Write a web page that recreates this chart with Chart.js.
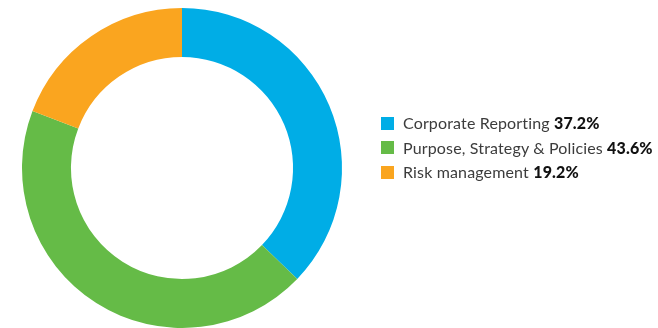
<!DOCTYPE html>
<html>
<head>
<meta charset="utf-8">
<script src="https://cdn.jsdelivr.net/npm/chart.js@4/dist/chart.umd.min.js"></script>
<style>
  html, body { margin: 0; padding: 0; background: #fff; }
  #wrap { position: relative; width: 658px; height: 328px; }
  #chart { position: absolute; left: 0; top: 0; }
  #legend {
    position: absolute; left: 381px; top: 111px;
    font-family: Lato, "Open Sans", sans-serif; font-size: 16px; color: #3c3c3c;
    letter-spacing: 0.15px;
    margin: 0; padding: 0; list-style: none;
  }
  #legend li { height: 24.5px; line-height: 24.5px; white-space: nowrap; display: flex; align-items: center; }
  #legend .box { width: 13px; height: 13px; margin-right: 9px; flex: none; }
  #legend b { color: #111; font-weight: 900; }
</style>
</head>
<body>
<div id="wrap">
  <canvas id="chart" width="658" height="328"></canvas>
  <ul id="legend"></ul>
</div>
<script>
// Share of topics (%)
const categories = ['Corporate Reporting', 'Purpose, Strategy & Policies', 'Risk management'];
const shares = [37.2, 43.6, 19.2];
const colors = ['#00ADE6', '#65BB47', '#FAA51F'];

new Chart(document.getElementById('chart'), {
  type: 'doughnut',
  data: {
    labels: categories,
    datasets: [{
      data: shares,
      backgroundColor: colors,
      borderWidth: 0,
      hoverOffset: 0
    }]
  },
  options: {
    responsive: false,
    animation: false,
    cutout: '69.4%',
    layout: { padding: { left: 22, right: 316, top: 8, bottom: 0 } },
    plugins: {
      legend: { display: false },
      tooltip: { enabled: false }
    }
  }
});

// Legend list built from the same arrays
const legend = document.getElementById('legend');
categories.forEach((name, i) => {
  const li = document.createElement('li');
  const box = document.createElement('span');
  box.className = 'box';
  box.style.background = colors[i];
  li.appendChild(box);
  li.appendChild(document.createTextNode(name + '\u00a0'));
  const b = document.createElement('b');
  b.textContent = shares[i].toFixed(1) + '%';
  li.appendChild(b);
  legend.appendChild(li);
});
</script>
</body>
</html>
